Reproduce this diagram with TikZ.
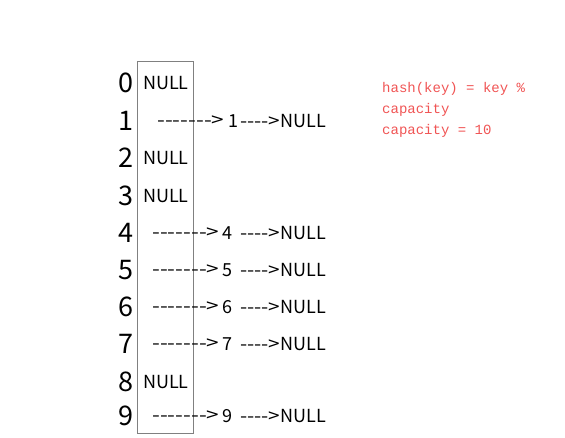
\documentclass[tikz,border=0pt]{standalone}
\usepackage{graphicx}
\usepackage{fontspec}
\setmainfont{Noto Sans CJK SC}[Ligatures=TeXOff]
\newfontfamily\redmono{Liberation Mono}[Ligatures=TeXOff]
\definecolor{boxgray}{RGB}{128,128,128}
\definecolor{notered}{RGB}{240,84,84}
\newcommand{\wdash}[1]{\scalebox{1.25}[1]{#1}}
\newcommand{\sdash}[1]{\scalebox{1.15}[1]{#1}}
\tikzset{
  idx/.style={anchor=east, inner sep=0pt, font=\fontsize{27}{27}\selectfont},
  cell/.style={anchor=west, inner sep=0pt, font=\fontsize{18}{18}\selectfont},
  chain/.style={anchor=west, inner sep=0pt, font=\fontsize{18}{18}\selectfont},
  note/.style={anchor=west, inner sep=0pt, text=notered, font=\redmono\fontsize{14}{14}\selectfont},
  table/.style={draw=boxgray, line width=1pt}
}
\begin{document}
\begin{tikzpicture}[x=1pt,y=-1pt]
\useasboundingbox (0,0) rectangle (565,437);
\draw[table] (137,61) rectangle (193,433);
% indices
\foreach \i/\y in {0/83,1/121,2/158,3/196,4/233,5/270,6/307,7/344,8/382,9/416}{
  \node[idx] (i\i) at (134,\y) {\i};
}
% NULL cells
\foreach \i/\y in {0/83,2/158,3/196,8/382}{
  \node[cell] (n\i) at (143,\y) {NULL};
}
% chains
\node[chain] (d1) at (157,121) {\wdash{------->}};
\node[chain] (v1) at (228,121) {1};
\node[chain] (e1) at (240,121) {\sdash{---->}NULL};
\foreach \i/\y in {4/233,5/270,6/307,7/344,9/416}{
  \node[chain] (d\i) at (152,\y) {\wdash{------->}};
  \node[chain] (v\i) at (222,\y) {\i};
  \node[chain] (e\i) at (240,\y) {\sdash{---->}NULL};
}
% note
\node[note] (h1) at (382,89) {hash(key) = key \%};
\node[note] (h2) at (382,110) {capacity};
\node[note] (h3) at (382,131) {capacity = 10};
\end{tikzpicture}
\end{document}
